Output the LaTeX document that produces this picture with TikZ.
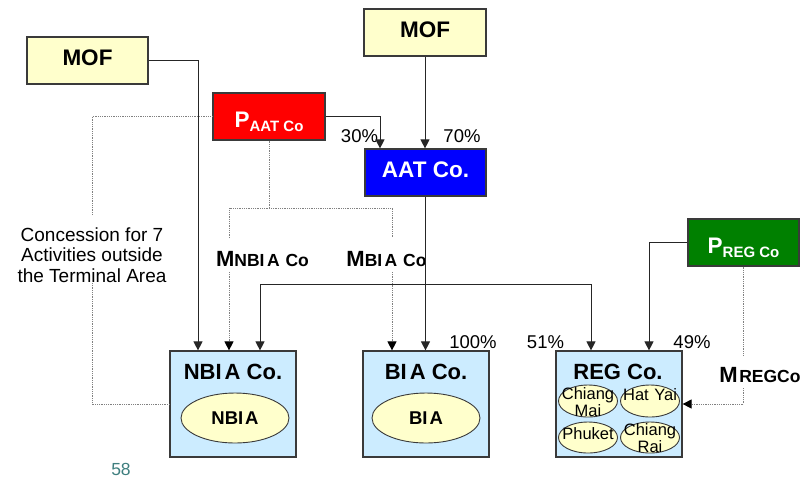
\documentclass[tikz,border=0pt]{standalone}
\usepackage{fontspec}
\setmainfont{Liberation Sans}
\usetikzlibrary{arrows.meta,shapes.geometric}

\definecolor{mofyellow}{HTML}{FFFFCC}
\definecolor{coblue}{HTML}{CCECFF}
\definecolor{pgreen}{HTML}{008000}
\definecolor{pageteal}{HTML}{3F7F7F}
\definecolor{edgegray}{HTML}{3A3A3A}
\definecolor{dotgray}{HTML}{808080}

\newcommand\fsz[2]{\fontsize{#1}{#2}\selectfont}

\begin{document}
\begin{tikzpicture}[x=1pt,y=-1pt,
  entity/.style={draw=edgegray, line width=1.2pt, minimum width=121pt,
    minimum height=47pt, inner sep=0pt, text depth=5pt,
    font=\bfseries\fsz{22.5}{26}},
  mofbox/.style={entity, fill=mofyellow},
  pbox/.style={entity, minimum width=112pt, text=white,
    text height=21.5pt, text depth=0pt},
  cobox/.style={draw=edgegray, line width=1.2pt, fill=coblue,
    minimum width=126pt, minimum height=106pt, inner sep=0pt},
  cotitle/.style={inner sep=0pt, font=\bfseries\fsz{22}{24}},
  site/.style={ellipse, draw=edgegray, line width=0.9pt, fill=mofyellow,
    inner sep=0pt},
  bigsite/.style={site, minimum width=108pt, minimum height=50pt,
    font=\bfseries\fsz{18.5}{20}},
  smallsite/.style={site, minimum width=59pt, minimum height=32pt},
  sitetext/.style={inner sep=0pt, align=center, font=\fsz{16.5}{17}},
  pct/.style={inner sep=0pt, font=\fsz{18.5}{20}},
  mgmt/.style={inner sep=0pt, font=\bfseries\fsz{22}{24}},
  note/.style={inner sep=0pt, align=center, font=\fsz{19}{20.5}},
  link/.style={draw=black!85, line width=1pt},
  own/.style={link, -{Triangle[length=9pt,width=9pt]}},
  dots/.style={draw=dotgray, line width=0.9pt, dash pattern=on 0.9pt off 0.9pt},
  dotarrow/.style={dots, -{Triangle[length=9pt,width=9pt,color=black]}}
]
\useasboundingbox (0,0) rectangle (805,483);

% ---- owners and holding company ----
\node[mofbox] (mofL) at (87.5,60.5) {MOF};
\node[mofbox, minimum width=122pt] (mofT) at (425,32.5) {MOF};
\node[pbox, fill=red] (paat) at (269,116.5)
  {P\raisebox{-4.5pt}{\fsz{15}{16}AAT Co}};
\node[entity, fill=blue, text=white] (aat) at (425.5,172.5) {AAT Co.};
\node[pbox, fill=pgreen, minimum width=111pt] (preg) at (743.5,242.5)
  {P\raisebox{-4.5pt}{\fsz{15}{16}REG Co}};

% ---- operating companies ----
\node[cobox] (nbiaco) at (233,404) {};
\node[cotitle] (nbiat) at (233,372) {NBI\kern3pt A Co.};
\node[bigsite] (nbia) at (235,418) {NBI\kern2pt A};

\node[cobox] (biaco) at (426,404) {};
\node[cotitle] (biat) at (426,372) {BI\kern3pt A Co.};
\node[bigsite] (bia) at (426,418) {BI\kern2pt A};

\node[cobox] (regco) at (619,404) {};
\node[cotitle] (regt) at (618,372) {REG Co.};
\node[smallsite] (cm) at (588,401) {};
\node[smallsite] (hy) at (650,401) {};
\node[smallsite, minimum height=31pt] (ph) at (588,437.5) {};
\node[smallsite, minimum height=31pt] (cr) at (650,437.5) {};
\node[sitetext] (cmt) at (588,402) {Chiang\\Mai};
\node[sitetext] (hyt) at (650,394.5) {Hat\,\,Yai};
\node[sitetext] (pht) at (588,433.5) {Phuket};
\node[sitetext] (crt) at (650,438.5) {Chiang\\Rai};

% ---- labels ----
\node[pct] (p30) at (359.5,136.5) {30\%};
\node[pct] (p70) at (462,136.5) {70\%};
\node[pct] (p100) at (473,342.5) {100\%};
\node[pct] (p51) at (545.5,342.5) {51\%};
\node[pct] (p49) at (692,342.5) {49\%};

\node[note] (conc) at (92,255)
  {Concession for 7\\Activities outside\\the Terminal Area};
\node[mgmt] (mnbia) at (262.5,259)
  {M{\fsz{17.5}{20}NBI\kern2.5pt A\kern1pt\ Co}};
\node[mgmt] (mbia) at (386.5,259)
  {M{\fsz{17.5}{20}BI\kern2.5pt A\kern1pt\ Co}};
\node[mgmt] (mreg) at (760,375.5)
  {M\kern1.5pt{\fsz{17.5}{20}REGCo}};

\node[inner sep=0pt, text=pageteal, font=\fsz{17.5}{18}] (page) at (121,469.5) {58};

% ---- ownership connectors ----
\draw[own] (mofL.east) -| ([xshift=-35pt]nbiaco.north);
\draw[own] (mofT.south) -- (mofT.south |- aat.north);
\draw[own] (paat.east) -| ([xshift=-45.5pt]aat.north);
\draw[own] (aat.south) -- (aat.south |- biaco.north);
\coordinate (split) at (425.5,284);
\draw[own] (split) -| ([xshift=27pt]nbiaco.north);
\draw[own] (split) -| ([xshift=-28pt]regco.north);
\draw[own] (preg.west) -| ([xshift=30pt]regco.north);

% ---- concession and management links ----
\coordinate (concTop) at (92,215);
\coordinate (concBot) at (92,283);
\draw[dots] (paat.west) -| (concTop);
\draw[dots] (concBot) |- (nbiaco.west);

\coordinate (mnj) at (229,208);
\coordinate (mbj) at (392,208);
\coordinate (mnEnd) at (229,238);
\coordinate (mbEnd) at (392,238);
\coordinate (mnStart) at (229,272);
\coordinate (mbStart) at (392,272);
\draw[dots] (paat.south) -- (paat.south |- mnj);
\draw[dots] (mnEnd) -- (mnj) -- (mbj) -- (mbEnd);
\draw[dotarrow] (mnStart) -- (mnStart |- nbiaco.north);
\draw[dotarrow] (mbStart) -- (mbStart |- biaco.north);

\coordinate (rgEnd) at (743.5,355);
\coordinate (rgStart) at (743.5,388);
\draw[dots] (preg.south) -- (rgEnd);
\draw[dotarrow] (rgStart) |- (regco.east);
\end{tikzpicture}
\end{document}
